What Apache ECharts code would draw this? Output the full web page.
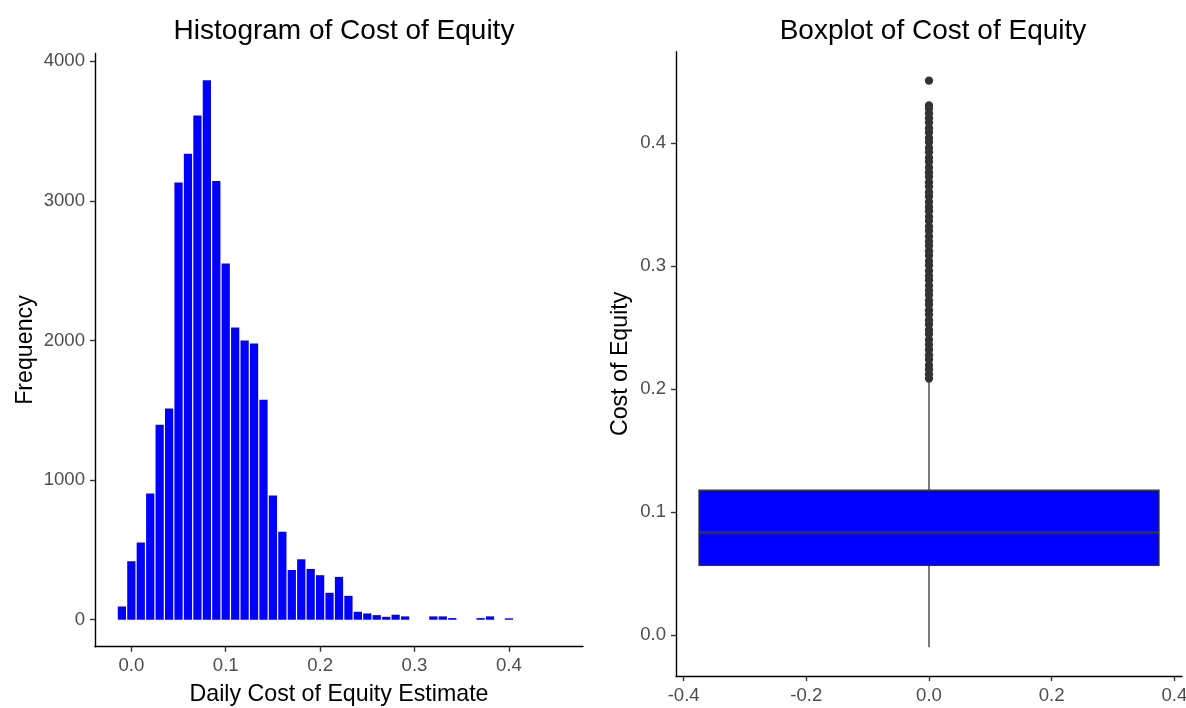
<!DOCTYPE html>
<html>
<head>
<meta charset="utf-8">
<title>Cost of Equity</title>
<script src="https://cdn.jsdelivr.net/npm/echarts@6/dist/echarts.min.js"></script>
<style>
  html, body { margin: 0; padding: 0; background: #ffffff; }
  #chart { width: 1186px; height: 708px; }
</style>
</head>
<body>
<div id="chart"></div>
<script>
// Histogram: bin centres (bin width 0.01) and counts
const binCenters = [-0.01, 0.00, 0.01, 0.02, 0.03, 0.04, 0.05, 0.06, 0.07, 0.08,
                    0.09, 0.10, 0.11, 0.12, 0.13, 0.14, 0.15, 0.16, 0.17, 0.18,
                    0.19, 0.20, 0.21, 0.22, 0.23, 0.24, 0.25, 0.26, 0.27, 0.28,
                    0.29, 0.30, 0.31, 0.32, 0.33, 0.34, 0.35, 0.36, 0.37, 0.38,
                    0.39, 0.40];
const binCounts = [95, 419, 553, 904, 1397, 1512, 3132, 3337, 3611, 3863,
                   3142, 2551, 2093, 2000, 1978, 1575, 890, 630, 356, 433,
                   364, 319, 193, 307, 171, 57, 45, 33, 21, 36,
                   24, 0, 0, 24, 24, 12, 0, 0, 12, 24,
                   0, 10];
const BIN_WIDTH = 0.01;

// Boxplot summary: lower whisker, Q1, median, Q3, upper whisker
const boxStats = [-0.0098, 0.0567, 0.0835, 0.1179, 0.2097];
// Points beyond the upper whisker
const outliers = [0.2085, 0.2120, 0.2160, 0.2195, 0.2240, 0.2275, 0.2320, 0.2360,
                  0.2400, 0.2445, 0.2480, 0.2525, 0.2560, 0.2605, 0.2640, 0.2685,
                  0.2720, 0.2765, 0.2800, 0.2840, 0.2885, 0.2920, 0.2960, 0.3005,
                  0.3040, 0.3085, 0.3120, 0.3165, 0.3200, 0.3240, 0.3285, 0.3320,
                  0.3365, 0.3400, 0.3445, 0.3480, 0.3520, 0.3565, 0.3600, 0.3645,
                  0.3680, 0.3725, 0.3760, 0.3800, 0.3845, 0.3880, 0.3925, 0.3960,
                  0.4005, 0.4040, 0.4085, 0.4120, 0.4165, 0.4200, 0.4240, 0.4280,
                  0.4305, 0.4506];

// Tick values
const histXTicks = [0.0, 0.1, 0.2, 0.3, 0.4];
const histYTicks = [0, 1000, 2000, 3000, 4000];
const boxXTicks = [-0.4, -0.2, 0.0, 0.2, 0.4];
const boxYTicks = [0.0, 0.1, 0.2, 0.3, 0.4];

const FONT = "'Liberation Sans', Arial, sans-serif";
const TICK_TEXT = { color: '#4D4D4D', fontSize: 18.6, fontFamily: FONT };
const AXIS_LINE = { show: true, onZero: false, lineStyle: { color: '#000000', width: 1.4 } };
const AXIS_TICK_STYLE = { length: 5, lineStyle: { color: '#333333', width: 1.4 } };
const NAME_STYLE = { color: '#000000', fontSize: 23.2, fontFamily: FONT };
const BOX_HALF = 0.375;
const BAR_GAP_PX = 0.6;

const chart = echarts.init(document.getElementById('chart'), null, { renderer: 'canvas' });

const histData = binCenters.map((c, i) => [c, binCounts[i]]);

function valueAxis(gridIndex, min, max, ticks, fmt, extra) {
  return Object.assign({
    type: 'value',
    gridIndex: gridIndex,
    min: min,
    max: max,
    splitLine: { show: false },
    axisLine: AXIS_LINE,
    axisTick: Object.assign({ show: true, customValues: ticks }, AXIS_TICK_STYLE),
    axisLabel: Object.assign({ customValues: ticks, formatter: fmt, margin: 10 }, TICK_TEXT)
  }, extra || {});
}

const fmt1 = v => v.toFixed(1);
const fmt0 = v => String(Math.round(v));

chart.setOption({
  animation: false,
  backgroundColor: '#ffffff',
  title: [
    { text: 'Histogram of Cost of Equity', left: 339, top: 12, textAlign: 'center',
      textStyle: { fontSize: 28, fontWeight: 'normal', color: '#000000', fontFamily: FONT } },
    { text: 'Boxplot of Cost of Equity', left: 928, top: 12, textAlign: 'center',
      textStyle: { fontSize: 28, fontWeight: 'normal', color: '#000000', fontFamily: FONT } }
  ],
  grid: [
    { left: 95, top: 53.4, width: 488, height: 593.3, containLabel: false, outerBoundsMode: 'none' },
    { left: 676, top: 51.7, width: 506, height: 624.3, containLabel: false, outerBoundsMode: 'none' }
  ],
  xAxis: [
    valueAxis(0, -0.0385, 0.4785, histXTicks, fmt1, {
      name: 'Daily Cost of Equity Estimate', nameLocation: 'middle', nameGap: 36,
      nameTextStyle: NAME_STYLE
    }),
    valueAxis(1, -0.4125, 0.4125, boxXTicks, fmt1)
  ],
  yAxis: [
    valueAxis(0, -193.15, 4056.15, histYTicks, fmt0, {
      name: 'Frequency', nameLocation: 'middle', nameGap: 58,
      nameTextStyle: NAME_STYLE
    }),
    valueAxis(1, -0.0331, 0.4741, boxYTicks, fmt1, {
      name: 'Cost of Equity', nameLocation: 'middle', nameGap: 44,
      nameTextStyle: NAME_STYLE
    })
  ],
  series: [
    {
      type: 'custom',
      xAxisIndex: 0,
      yAxisIndex: 0,
      data: histData,
      renderItem: function (params, api) {
        const c = api.value(0);
        const n = api.value(1);
        if (n <= 0) return null;
        const p0 = api.coord([c - BIN_WIDTH / 2, 0]);
        const p1 = api.coord([c + BIN_WIDTH / 2, n]);
        return {
          type: 'rect',
          shape: {
            x: p0[0] + BAR_GAP_PX,
            y: p1[1],
            width: p1[0] - p0[0] - 2 * BAR_GAP_PX,
            height: p0[1] - p1[1]
          },
          style: { fill: '#0000FF' }
        };
      }
    },
    {
      type: 'custom',
      xAxisIndex: 1,
      yAxisIndex: 1,
      data: [[0].concat(boxStats)],
      renderItem: function (params, api) {
        const x = api.value(0);
        const lo = api.value(1), q1 = api.value(2), med = api.value(3),
              q3 = api.value(4), hi = api.value(5);
        const wTop = api.coord([x, hi]);
        const wQ3 = api.coord([x, q3]);
        const wQ1 = api.coord([x, q1]);
        const wLo = api.coord([x, lo]);
        const tl = api.coord([x - BOX_HALF, q3]);
        const br = api.coord([x + BOX_HALF, q1]);
        const mL = api.coord([x - BOX_HALF, med]);
        const mR = api.coord([x + BOX_HALF, med]);
        const lineStyle = { stroke: '#333333', lineWidth: 1.3 };
        return {
          type: 'group',
          children: [
            { type: 'line', shape: { x1: wQ3[0], y1: wQ3[1], x2: wTop[0], y2: wTop[1] }, style: lineStyle },
            { type: 'line', shape: { x1: wLo[0], y1: wLo[1], x2: wQ1[0], y2: wQ1[1] }, style: lineStyle },
            { type: 'rect', shape: { x: tl[0], y: tl[1], width: br[0] - tl[0], height: br[1] - tl[1] },
              style: { fill: '#0000FF', stroke: '#333333', lineWidth: 1.3 } },
            { type: 'line', shape: { x1: mL[0], y1: mL[1], x2: mR[0], y2: mR[1] },
              style: { stroke: '#333333', lineWidth: 3 } }
          ]
        };
      }
    },
    {
      type: 'scatter',
      xAxisIndex: 1,
      yAxisIndex: 1,
      data: outliers.map(v => [0, v]),
      symbol: 'circle',
      symbolSize: 8.3,
      itemStyle: { color: '#333333', opacity: 1 },
      emphasis: { disabled: true }
    }
  ]
});
</script>
</body>
</html>
